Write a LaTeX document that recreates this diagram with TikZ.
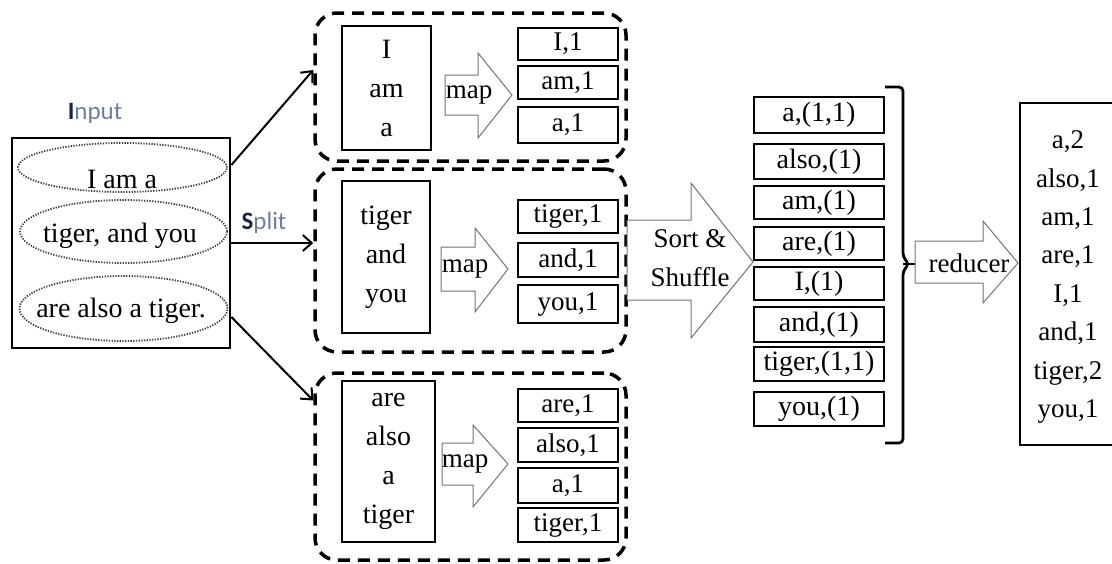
\documentclass[tikz,border=0pt]{standalone}
\usepackage{fontspec}
\setmainfont{Liberation Serif}
\newfontfamily\bodyfont{Liberation Serif}
\newfontfamily\labelfont{Carlito}
\usetikzlibrary{arrows.meta,shapes.geometric,calc}
\definecolor{capink}{HTML}{1C2445}
\definecolor{labink}{HTML}{6E7F99}

\begin{document}
\begin{tikzpicture}[x=1pt,y=-1pt,
  every node/.style={font=\bodyfont\fontsize{28}{39}\selectfont, inner sep=0pt},
  small/.style={font=\bodyfont\fontsize{27}{39}\selectfont},
  wordbox/.style={draw, line width=2.2pt, align=center},
  kvbox/.style={draw, line width=2.8pt, minimum width=100pt, small},
  sortbox/.style={draw, line width=2.6pt, minimum width=130pt},
  group/.style={draw, line width=3.5pt, dash pattern=on 12pt off 8pt, rounded corners=22pt, minimum width=311pt},
  part/.style={draw=black!75, line width=1.8pt, dash pattern=on 1.3pt off 1.4pt, ellipse},
  fat/.style={draw=black!55, line width=1pt, fill=white},
  splitarrow/.style={line width=2pt, -{Straight Barb[length=9pt,width=16pt,line width=2pt]}},
  tag/.style={font=\labelfont\fontsize{25}{28}\selectfont, text=labink}
]
\clip (0,0) rectangle (1112,563);

% input text and its three parts
\node[tag] (inlabel) at (95,113) {\textcolor{capink}{\bfseries I}nput};
\node[draw, line width=2.8pt, minimum width=218pt, minimum height=210pt] (input) at (121,243) {};
\node[part, minimum width=209pt, minimum height=49pt] (e1) at (122.5,167.5) {};
\node[part, minimum width=207pt, minimum height=63pt] (e2) at (123.5,231.5) {};
\node[part, minimum width=208pt, minimum height=65pt] (e3) at (123.5,308.5) {};
\node (t1) at (122,179) {I am a};
\node (t2) at (120,236) {tiger, and you};
\node (t3) at (121,311) {are also a tiger.};

% three mapper groups
\node[group, minimum height=148pt] (g1) at (470.5,87) {};
\node[group, minimum height=183pt] (g2) at (470.5,260.5) {};
\node[group, minimum height=187pt] (g3) at (470.5,466.5) {};

% split connectors
\node[tag] (splitlabel) at (264,223) {\textcolor{capink}{\bfseries S}plit};
\draw[splitarrow] ([yshift=78pt]input.east) -- ([yshift=17pt]g1.west);
\draw[splitarrow] (input.east) -- (input.east -| g2.west);
\draw[splitarrow] ([yshift=-74pt]input.east) -- ([yshift=66pt]g3.west);

% word lists
\node[wordbox, minimum width=89pt, minimum height=124pt] (w1) at (386.5,88) {I\\am\\a};
\node[wordbox, minimum width=88pt, minimum height=152pt] (w2) at (386,257) {tiger\\and\\you};
\node[wordbox, minimum width=93pt, minimum height=161pt] (w3) at (388.5,461.5) {are\\also\\a\\tiger};

% map arrows
\draw[fat] (445,75)--(478,75)--(478,53)--(512,95)--(478,138)--(478,115)--(445,115)--cycle;
\node[small] (m1) at (469,95) {map};
\draw[fat] (441,247)--(475,247)--(475,228)--(508,269)--(475,312)--(475,291)--(441,291)--cycle;
\node[small] (m2) at (465,269) {map};
\draw[fat] (442,443)--(473,443)--(473,425)--(508,464)--(473,507)--(473,485)--(442,485)--cycle;
\node[small] (m3) at (465,464) {map};

% key/value pairs
\node[kvbox, minimum height=32pt] (k11) at (568,44) {I,1};
\node[kvbox, minimum height=33pt] (k12) at (568,82.5) {am,1};
\node[kvbox, minimum height=36pt] (k13) at (568,125) {a,1};
\node[kvbox, minimum height=33pt] (k21) at (568,216.5) {tiger,1};
\node[kvbox, minimum height=34pt] (k22) at (568,260) {and,1};
\node[kvbox, minimum height=38pt] (k23) at (568,304) {you,1};
\node[kvbox, minimum height=33pt] (k31) at (568,405.5) {are,1};
\node[kvbox, minimum height=34pt] (k32) at (568,445) {also,1};
\node[kvbox, minimum height=35pt] (k33) at (568,485.5) {a,1};
\node[kvbox, minimum height=34pt] (k34) at (568,525) {tiger,1};

% sort and shuffle
\draw[fat] (627,220)--(691,220)--(691,183)--(753,262)--(691,338)--(691,300)--(627,300)--cycle;
\node[align=center, small] (sortlabel) at (690,258) {Sort \&\\Shuffle};

\node[sortbox, minimum height=36pt] (s1) at (819,115) {a,(1,1)};
\node[sortbox, minimum height=35pt] (s2) at (819,161.5) {also,(1)};
\node[sortbox, minimum height=33pt] (s3) at (819,202.5) {am,(1)};
\node[sortbox, minimum height=33pt] (s4) at (819,243.5) {are,(1)};
\node[sortbox, minimum height=33pt] (s5) at (819,283.5) {I,(1)};
\node[sortbox, minimum height=35pt] (s6) at (819,324.5) {and,(1)};
\node[sortbox, minimum height=34pt] (s7) at (819,364) {tiger,(1,1)};
\node[sortbox, minimum height=34pt] (s8) at (819,409) {you,(1)};

% brace gathering the sorted pairs
\draw[line width=2.8pt, rounded corners=4pt] (885,87)--(903,87)--(903,257)--(909,264)--(903,271)--(903,443)--(885,443);
\draw[line width=2pt] (903,264)--(923,264);

% reducer
\draw[fat] (915,241)--(983,241)--(983,221)--(1018,263)--(983,303)--(983,283)--(915,283)--cycle;
\node[small] (redlabel) at (969,263) {reducer};

% final counts
\node[draw, line width=2.8pt, minimum width=110pt, minimum height=342pt] (res) at (1075,274) {};
\node[align=center, font=\bodyfont\fontsize{27}{38.4}\selectfont] (reslist) at (1068,277) {a,2\\also,1\\am,1\\are,1\\I,1\\and,1\\tiger,2\\you,1};
\end{tikzpicture}
\end{document}
